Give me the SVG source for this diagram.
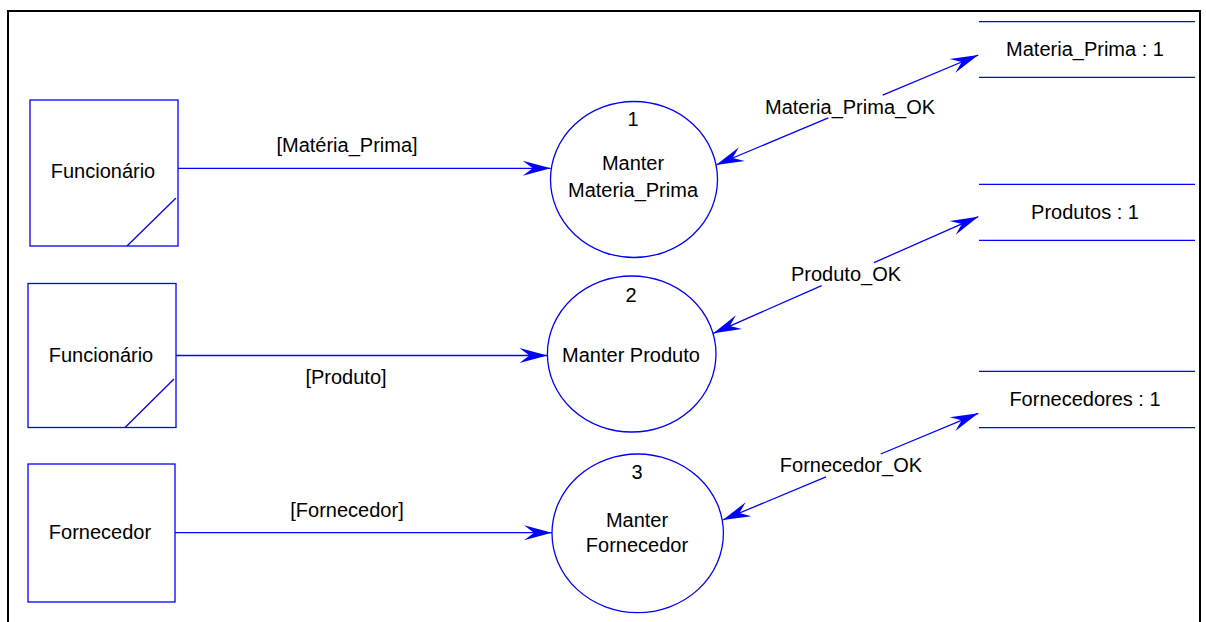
<svg xmlns="http://www.w3.org/2000/svg" width="1206" height="622" viewBox="0 0 1206 622">
  <style>
    .shape { fill: #ffffff; stroke: #0000ff; stroke-width: 1.3; }
    .edge { fill: none; stroke: #0000ff; stroke-width: 1.3; }
    .store { stroke: #0000ff; stroke-width: 1.3; }
    .label { font-family: "Liberation Sans", Arial, sans-serif; font-size: 20px; fill: #000000; text-anchor: middle; }
  </style>
  <defs>
    <marker id="arrow" viewBox="-30 -10 32 20" refX="0" refY="0" markerWidth="32" markerHeight="20" markerUnits="userSpaceOnUse" orient="auto-start-reverse">
      <path d="M0,0 L-28,-7.5 L-18,0 L-28,7.5 Z" fill="#0000ff"/>
    </marker>
  </defs>

  <rect width="1206" height="622" fill="#ffffff"/>
  <!-- page frame -->
  <path d="M8,622 V11 H1200 V622" fill="none" stroke="#000000" stroke-width="2"/>

  <!-- external entities -->
  <g id="entity-funcionario-1">
    <rect class="shape" x="30" y="100" width="148" height="146"/>
    <line class="edge" x1="127" y1="246" x2="176" y2="198"/>
    <text class="label" x="103" y="178">Funcionário</text>
  </g>
  <g id="entity-funcionario-2">
    <rect class="shape" x="28" y="283.5" width="148" height="144"/>
    <line class="edge" x1="125" y1="427.5" x2="174" y2="379"/>
    <text class="label" x="101" y="362">Funcionário</text>
  </g>
  <g id="entity-fornecedor">
    <rect class="shape" x="28" y="464" width="147" height="138"/>
    <text class="label" x="100" y="539">Fornecedor</text>
  </g>

  <!-- processes -->
  <g id="process-1">
    <ellipse class="shape" cx="634" cy="179.5" rx="83.5" ry="78"/>
    <text class="label" x="633" y="126">1</text>
    <text class="label" x="633" y="170">Manter</text>
    <text class="label" x="633" y="197">Materia_Prima</text>
  </g>
  <g id="process-2">
    <ellipse class="shape" cx="631.7" cy="354" rx="84.3" ry="78"/>
    <text class="label" x="631" y="302">2</text>
    <text class="label" x="631" y="362">Manter Produto</text>
  </g>
  <g id="process-3">
    <ellipse class="shape" cx="637.7" cy="533.3" rx="85.7" ry="79.3"/>
    <text class="label" x="637" y="479">3</text>
    <text class="label" x="637" y="527">Manter</text>
    <text class="label" x="637" y="552">Fornecedor</text>
  </g>

  <!-- data stores -->
  <g id="store-materia-prima">
    <line class="store" x1="979" y1="21.7" x2="1195" y2="21.7"/>
    <line class="store" x1="979" y1="77.3" x2="1195" y2="77.3"/>
    <text class="label" x="1085" y="56">Materia_Prima : 1</text>
  </g>
  <g id="store-produtos">
    <line class="store" x1="979" y1="184.3" x2="1195" y2="184.3"/>
    <line class="store" x1="979" y1="240.3" x2="1195" y2="240.3"/>
    <text class="label" x="1085" y="219">Produtos : 1</text>
  </g>
  <g id="store-fornecedores">
    <line class="store" x1="979" y1="371.3" x2="1195" y2="371.3"/>
    <line class="store" x1="979" y1="427.7" x2="1195" y2="427.7"/>
    <text class="label" x="1085" y="406">Fornecedores : 1</text>
  </g>

  <!-- data flows -->
  <g id="connectors">
    <line class="edge" x1="178" y1="168.3" x2="550.7" y2="168.3" marker-end="url(#arrow)"/>
    <text class="label" x="347" y="152">[Matéria_Prima]</text>

    <line class="edge" x1="176" y1="355.5" x2="547.4" y2="355.5" marker-end="url(#arrow)"/>
    <text class="label" x="346" y="384">[Produto]</text>

    <line class="edge" x1="175" y1="532.7" x2="552" y2="532.7" marker-end="url(#arrow)"/>
    <text class="label" x="347" y="517">[Fornecedor]</text>

    <line class="edge" x1="716" y1="165" x2="828.3" y2="117.9" marker-start="url(#arrow)"/>
    <line class="edge" x1="882.7" y1="95.1" x2="978.3" y2="55" marker-end="url(#arrow)"/>
    <text class="label" x="850" y="114">Materia_Prima_OK</text>

    <line class="edge" x1="713.3" y1="333.3" x2="821.7" y2="285.6" marker-start="url(#arrow)"/>
    <line class="edge" x1="874" y1="262.6" x2="978.3" y2="216.7" marker-end="url(#arrow)"/>
    <text class="label" x="846" y="281">Produto_OK</text>

    <line class="edge" x1="722.7" y1="520" x2="826" y2="476.9" marker-start="url(#arrow)"/>
    <line class="edge" x1="880.7" y1="454" x2="978.3" y2="413.3" marker-end="url(#arrow)"/>
    <text class="label" x="851" y="472">Fornecedor_OK</text>
  </g>
</svg>
